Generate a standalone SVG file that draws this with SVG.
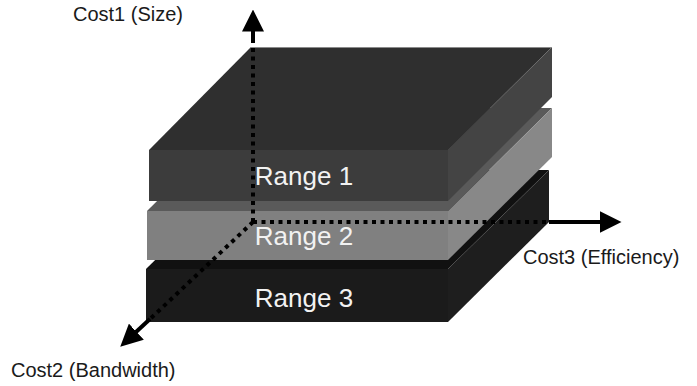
<svg xmlns="http://www.w3.org/2000/svg" width="697" height="386" viewBox="0 0 697 386">
  <style>
    .axis-label { font-family: "Liberation Sans", Arial, sans-serif; font-size: 20px; fill: #1a1a1a; }
    .range-label { font-family: "Liberation Sans", Arial, sans-serif; font-size: 26px; fill: #f2f2f2; text-anchor: middle; }
    .dotted { stroke: #000; stroke-width: 4; stroke-dasharray: 4 4.5; fill: none; }
    .solid { stroke: #000; stroke-width: 4; fill: none; marker-end: url(#arrow); }
  </style>
  <defs>
    <marker id="arrow" markerUnits="userSpaceOnUse" viewBox="0 0 22 22" markerWidth="22" markerHeight="22" refX="0.5" refY="11" orient="auto">
      <path d="M0,0 L22,11 L0,22 Z" fill="#000"/>
    </marker>
  </defs>

  <rect width="697" height="386" fill="#fff"/>

  <!-- bottom slab -->
  <g id="range3">
    <polygon points="146,269 448,269 549,170 247,170" fill="#111111"/>
    <polygon points="448,269 549,170 549,222 448,322" fill="#1e1e1e"/>
    <rect x="146" y="269" width="302" height="53" fill="#1b1b1b"/>
    <text class="range-label" x="304" y="307">Range 3</text>
  </g>

  <!-- middle slab -->
  <g id="range2">
    <polygon points="147,211 448,211 552,108 251,108" fill="#5a5a5a"/>
    <polygon points="448,211 552,108 552,157 448,260" fill="#888888"/>
    <rect x="147" y="211" width="301" height="49" fill="#808080"/>
    <text class="range-label" x="304" y="245">Range 2</text>
  </g>

  <!-- top slab -->
  <g id="range1">
    <polygon points="149,150 448,150 552,47 251,47" fill="#2f2f2f"/>
    <polygon points="448,150 552,47 552,97 448,201" fill="#444444"/>
    <rect x="149" y="150" width="299" height="51" fill="#3c3c3c"/>
    <line x1="251" y1="47.5" x2="552" y2="47.5" stroke="#8a8a8a" stroke-width="1"/>
    <text class="range-label" x="304" y="185">Range 1</text>
  </g>

  <!-- cost axes -->
  <g id="axes">
    <line class="dotted" x1="253" y1="222" x2="253" y2="46"/>
    <line class="solid" x1="253" y1="43" x2="253" y2="31"/>
    <line class="dotted" x1="253" y1="222" x2="548" y2="222"/>
    <line class="solid" x1="549" y1="222" x2="600" y2="222"/>
    <line class="dotted" x1="253" y1="222" x2="149" y2="320"/>
    <line class="solid" x1="150" y1="319" x2="136" y2="332"/>
  </g>

  <g id="labels">
    <text class="axis-label" x="73" y="20.5">Cost1 (Size)</text>
    <text class="axis-label" x="523" y="263.5">Cost3 (Efficiency)</text>
    <text class="axis-label" x="11" y="376.5">Cost2 (Bandwidth)</text>
  </g>
</svg>
